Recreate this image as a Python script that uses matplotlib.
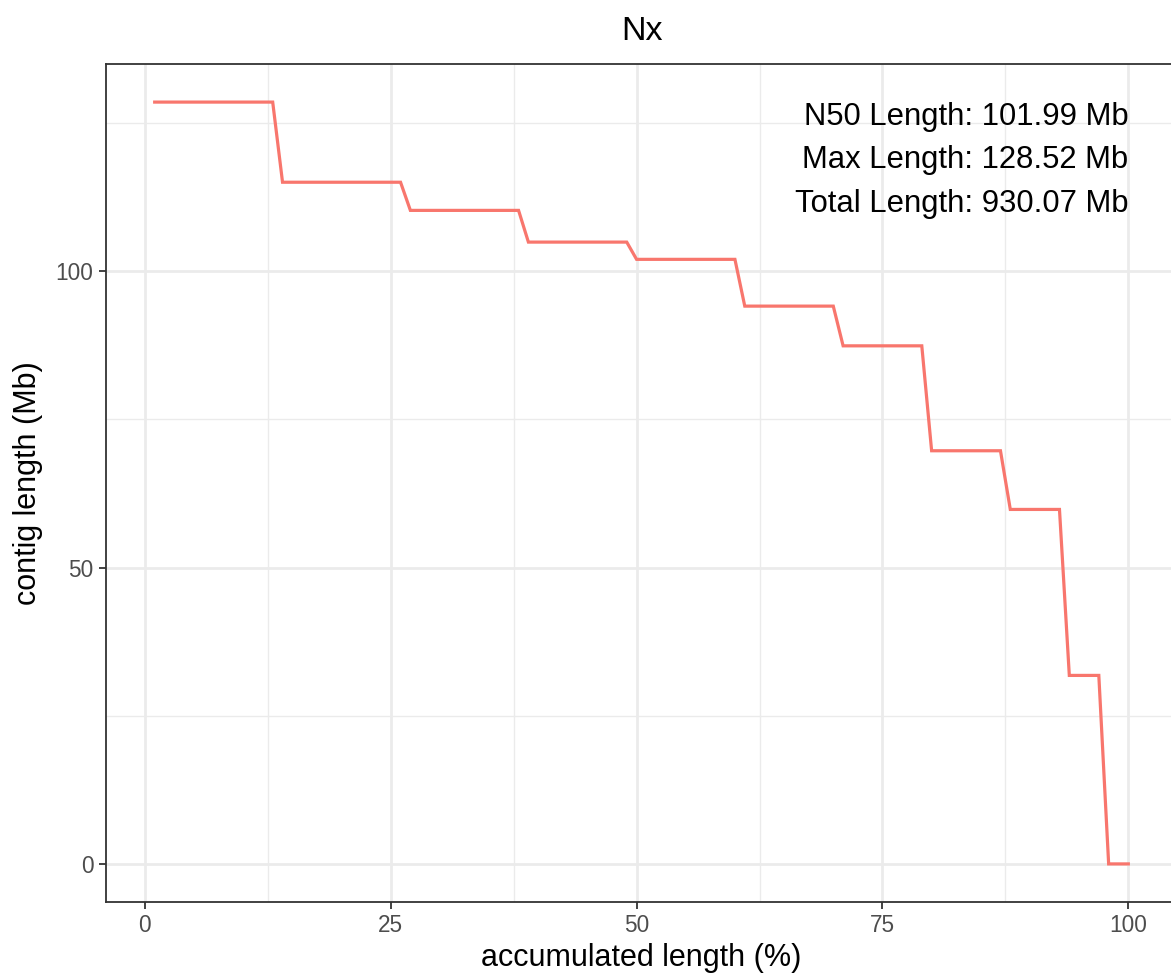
import matplotlib
matplotlib.use("Agg")
import matplotlib.pyplot as plt
from matplotlib.ticker import FixedLocator

plt.rcParams['font.family'] = ['Liberation Sans', 'DejaVu Sans']

# Data: Nx curve (x = accumulated length %, y = contig length Mb)
accumulated_pct = list(range(1, 101))
contig_mb = ([128.52] * 13 + [115.0] * 13 + [110.25] * 12 + [104.9] * 11 +
             [101.99] * 11 + [94.1] * 10 + [87.4] * 9 + [69.7] * 8 +
             [59.8] * 6 + [31.8] * 4 + [0.0] * 3)
x_ticks = [0, 25, 50, 75, 100]
y_ticks = [0, 50, 100]
annotations = ["N50 Length: 101.99 Mb", "Max Length: 128.52 Mb", "Total Length: 930.07 Mb"]

W, H = 1171, 975
fig = plt.figure(figsize=(W / 100, H / 100), dpi=100)
left, right, top, bottom = 106, 1177, 64, 902
ax = fig.add_axes([left / W, 1 - bottom / H, (right - left) / W, (bottom - top) / H])

grid_c = '#EBEBEB'
ax.xaxis.set_major_locator(FixedLocator(x_ticks))
ax.yaxis.set_major_locator(FixedLocator(y_ticks))
ax.xaxis.set_minor_locator(FixedLocator([12.5, 37.5, 62.5, 87.5]))
ax.yaxis.set_minor_locator(FixedLocator([25, 75, 125]))
ax.grid(which='major', color=grid_c, linewidth=2.0)
ax.grid(which='minor', color=grid_c, linewidth=1.0)
ax.set_axisbelow(True)

ax.plot(accumulated_pct, contig_mb, color='#F8766D', linewidth=2.3, solid_joinstyle='miter')

xmin, xmax = min(accumulated_pct), max(accumulated_pct)
xr = xmax - xmin
ax.set_xlim(xmin - 0.05 * xr, xmax + 0.05 * xr)
ymax = max(contig_mb)
ax.set_ylim(-0.05 * ymax, ymax * 1.05)

for s in ax.spines.values():
    s.set_color('#333333')
    s.set_linewidth(1.3)

ax.tick_params(which='major', length=5, width=1.3, color='#333333',
               labelsize=16.3, labelcolor='#4D4D4D', pad=4)
ax.tick_params(which='minor', length=0)

ax.set_xlabel('accumulated length (%)', fontsize=22, color='black', labelpad=4)
ax.set_ylabel('contig length (Mb)', fontsize=22, color='black', labelpad=9)
ax.set_title('Nx', fontsize=24.5, color='black', pad=17)

for i, t in enumerate(annotations):
    ax.text(100, 126 - i * 7.3, t, ha='right', va='center', fontsize=22.3, color='black')

fig.savefig('out.png', dpi=100)
